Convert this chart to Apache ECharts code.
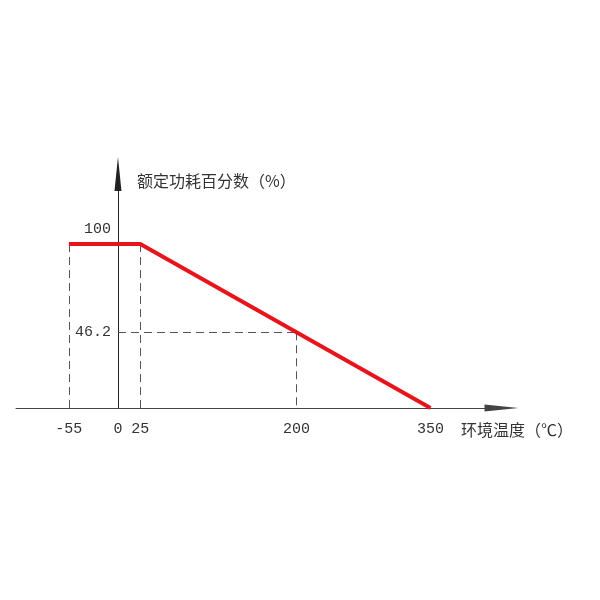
<!DOCTYPE html>
<html>
<head>
<meta charset="utf-8">
<script src="https://cdn.jsdelivr.net/npm/echarts@6/dist/echarts.min.js"></script>
<style>
  html, body { margin: 0; padding: 0; background: #fff; }
  #main { width: 600px; height: 600px; }
</style>
</head>
<body>
<div id="main"></div>
<script>
// 降额曲线数据
var curveX = [-55, 25, 350];
var curveY = [100, 100, 0];
var xTicks = [-55, 0, 25, 200, 350];
var yTicks = [46.2, 100];
var guideX = 200;     // 46.2% 对应温度
var guideY = 46.2;
var xName = '环境温度（℃）';
var yName = '额定功耗百分数（%）';

var numFont = '"Liberation Mono", "DejaVu Sans Mono", monospace';
var cjkFont = '"Noto Sans CJK SC", sans-serif';

var xMin = -114.2, xMax = 429.5;
var gridLeft = 16, gridRight = 98.5;

var chart = echarts.init(document.getElementById('main'));

var curve = curveX.map(function (x, i) { return [x, curveY[i]]; });

// 虚线辅助线
var guides = [
  [{ coord: [curveX[0], curveY[0]] }, { coord: [curveX[0], 0] }],
  [{ coord: [curveX[1], curveY[1]] }, { coord: [curveX[1], 0] }],
  [{ coord: [guideX, guideY] }, { coord: [guideX, 0] }],
  [{ coord: [0, guideY] }, { coord: [guideX, guideY] }]
];

// y轴移到 x=0 处（v6里 onZero 不带标签走，直接用 offset）
var plotW = 600 - gridLeft - gridRight;
var zeroOffset = (0 - xMin) / (xMax - xMin) * plotW;

var option = {
  animation: false,
  backgroundColor: '#fff',
  grid: { left: gridLeft, right: gridRight, top: 174, bottom: 192, outerBoundsMode: 'none', containLabel: false },
  xAxis: {
    type: 'value',
    min: xMin,
    max: xMax,
    splitLine: { show: false },
    axisTick: { show: false },
    axisLine: {
      onZero: false,
      symbol: ['none', 'triangle'],
      symbolSize: [7, 34],
      lineStyle: { color: '#444', width: 1 }
    },
    axisLabel: {
      customValues: xTicks,
      margin: 14,
      color: '#333',
      fontSize: 15,
      fontFamily: numFont
    },
    name: xName,
    nameLocation: 'end',
    nameGap: -40.5,
    nameTextStyle: {
      align: 'left',
      verticalAlign: 'top',
      padding: [14, 0, 0, 0],
      color: '#333',
      fontSize: 16,
      fontFamily: cjkFont
    }
  },
  yAxis: {
    type: 'value',
    min: 0,
    max: 142.7,
    offset: -zeroOffset,
    splitLine: { show: false },
    axisTick: { show: false },
    axisLine: {
      onZero: false,
      symbol: ['none', 'triangle'],
      symbolSize: [7, 34],
      lineStyle: { color: '#222', width: 1 }
    },
    axisLabel: {
      customValues: yTicks,
      margin: 7,
      color: '#333',
      fontSize: 15,
      fontFamily: numFont,
      formatter: function (v) {
        return v === 100 ? '{up|' + v + '}' : '' + v;
      },
      rich: {
        up: { padding: [0, 0, 29, 0], fontSize: 15, fontFamily: numFont, color: '#333' }
      }
    },
    name: yName,
    nameLocation: 'end',
    nameGap: -7,
    nameTextStyle: {
      align: 'left',
      verticalAlign: 'middle',
      padding: [0, 0, 0, 19],
      color: '#333',
      fontSize: 16,
      fontFamily: cjkFont
    }
  },
  series: [{
    type: 'line',
    data: curve,
    showSymbol: false,
    symbol: 'none',
    z: 5,
    lineStyle: { color: '#e8141b', width: 4 },
    markLine: {
      silent: true,
      symbol: ['none', 'none'],
      label: { show: false },
      lineStyle: { type: [8, 5], color: '#555', width: 1 },
      data: guides
    }
  }]
};

chart.setOption(option);
</script>
</body>
</html>
